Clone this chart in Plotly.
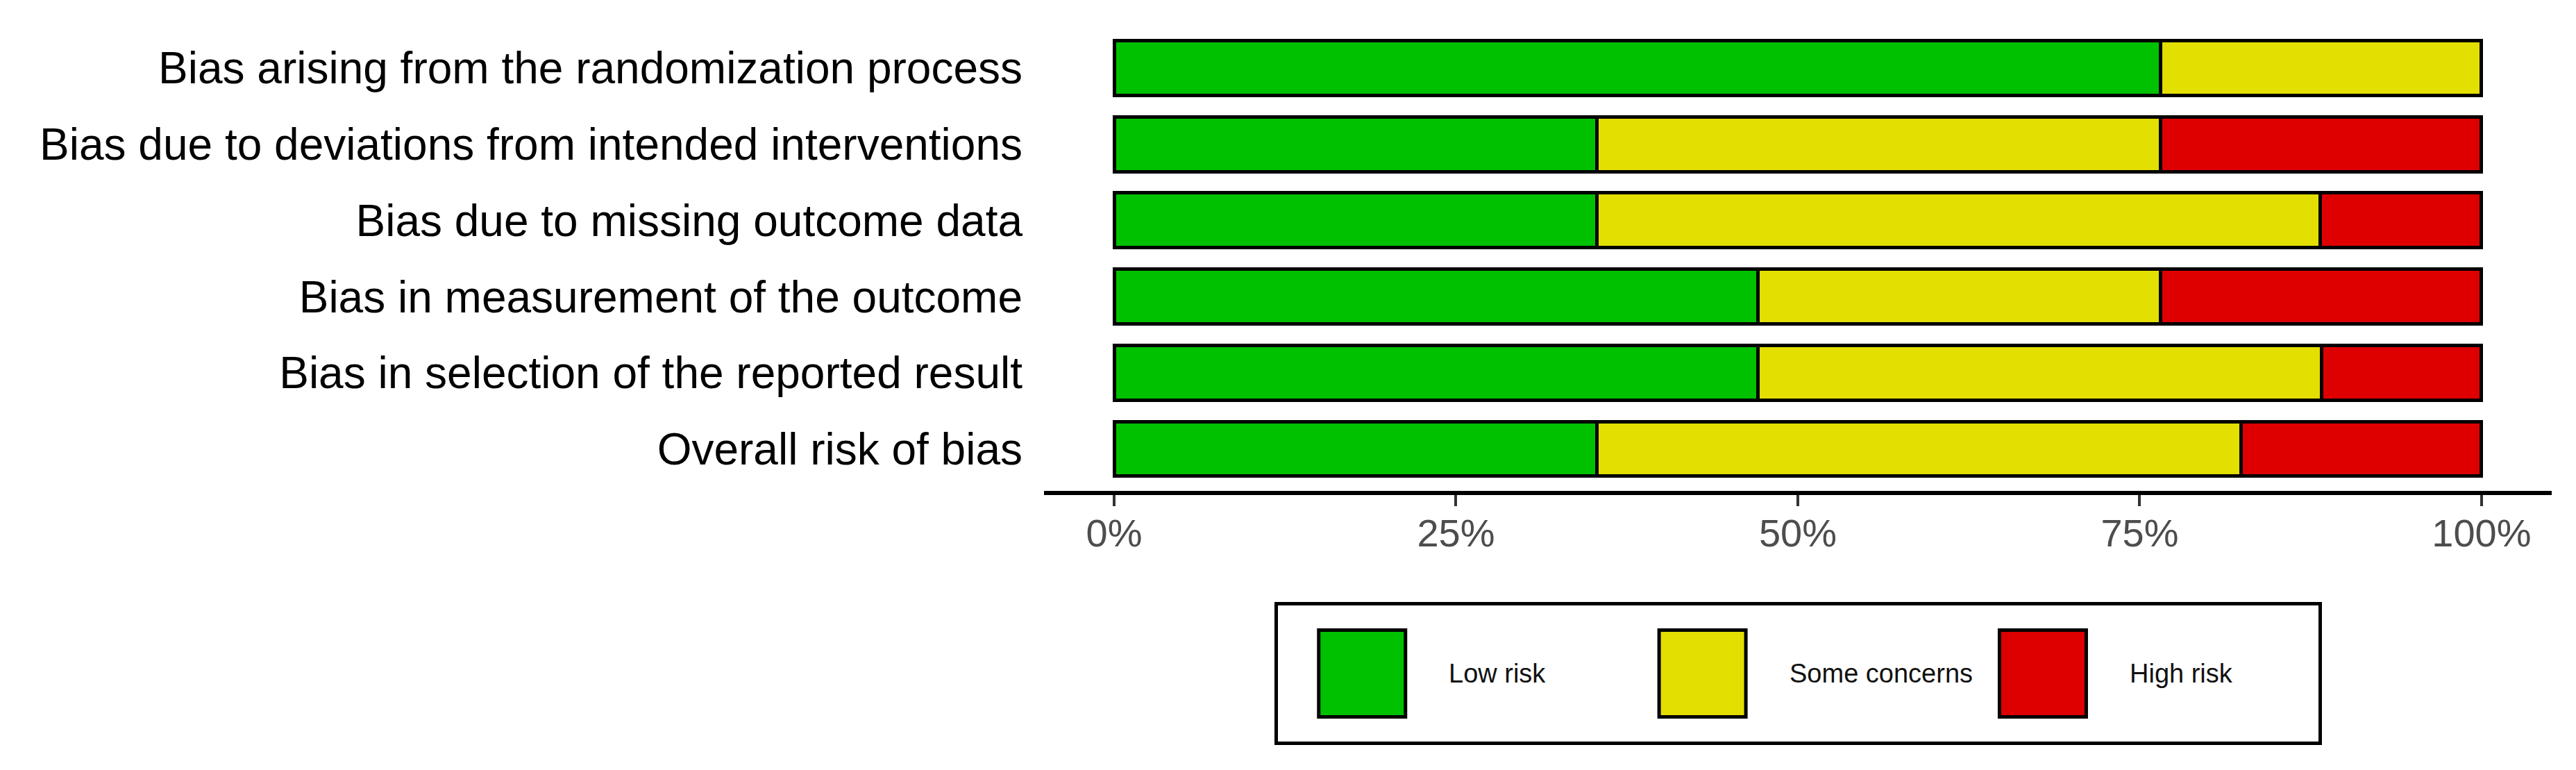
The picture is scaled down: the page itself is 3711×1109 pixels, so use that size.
import plotly.graph_objects as go

# ---- data ----
domains = [
    "Bias arising from the randomization process",
    "Bias due to deviations from intended interventions",
    "Bias due to missing outcome data",
    "Bias in measurement of the outcome",
    "Bias in selection of the reported result",
    "Overall risk of bias",
]
low_risk = [76.5, 35.3, 35.3, 47.1, 47.1, 35.3]
some_concerns = [23.5, 41.2, 52.9, 29.4, 41.2, 47.1]
high_risk = [0.0, 23.5, 11.8, 23.5, 11.7, 17.6]

judgements = ["Low risk", "Some concerns", "High risk"]
colours = ["#00C100", "#E3DF00", "#DE0000"]

tick_vals = [0, 25, 50, 75, 100]
tick_text = ["0%", "25%", "50%", "75%", "100%"]

W, H = 3711, 1109
FONT = "Liberation Sans, Arial, Helvetica, sans-serif"

fig = go.Figure()

for name, vals, col in zip(judgements, [low_risk, some_concerns, high_risk], colours):
    fig.add_trace(go.Bar(
        y=domains, x=vals, name=name, orientation="h",
        marker=dict(color=col, line=dict(color="black", width=5)),
        xaxis="x", yaxis="y", showlegend=False, hoverinfo="skip",
    ))

# legend drawn as its own small panel
fig.add_trace(go.Scatter(
    x=judgements, y=[0.5] * len(judgements), mode="markers",
    marker=dict(symbol="square", size=125, color=colours,
                line=dict(color="black", width=5)),
    xaxis="x2", yaxis="y2", showlegend=False, hoverinfo="skip",
    cliponaxis=False,
))

annotations = [
    dict(x=j, y=0.5, xref="x2", yref="y2", text=j, showarrow=False,
         xanchor="left", yanchor="middle", xshift=123,
         font=dict(family=FONT, size=38, color="#111111"))
    for j in judgements
]

fig.update_layout(
    width=W, height=H,
    margin=dict(l=0, r=0, t=0, b=0),
    paper_bgcolor="white", plot_bgcolor="white",
    barmode="stack", bargap=0.28,
    font=dict(family=FONT, color="black"),
    annotations=annotations,
    xaxis=dict(
        domain=[1496 / W, 3668 / W], range=[-5.127, 105.13],
        tickvals=tick_vals, ticktext=tick_text,
        showgrid=False, zeroline=False,
        showline=True, linecolor="black", linewidth=6,
        ticks="outside", ticklen=16, tickwidth=4, tickcolor="#333333",
        tickfont=dict(family=FONT, size=56, color="#4D4D4D"),
        ticklabelstandoff=-9, automargin=False, fixedrange=True,
    ),
    yaxis=dict(
        domain=[1 - 699 / H, 1 - 24 / H],
        type="category", categoryarray=domains, categoryorder="array",
        range=[5.5515, -0.6016],
        showgrid=False, zeroline=False, showline=False, ticks="",
        tickfont=dict(family=FONT, size=64, color="black"),
        ticklabelstandoff=30, automargin=False, fixedrange=True,
    ),
    xaxis2=dict(
        domain=[1833 / W, 3332 / W], anchor="y2",
        type="category", categoryarray=judgements, categoryorder="array",
        range=[-0.2473, 2.8097],
        showgrid=False, zeroline=False, showticklabels=False, ticks="",
        showline=True, mirror=True, linecolor="black", linewidth=5,
        automargin=False, fixedrange=True,
    ),
    yaxis2=dict(
        domain=[1 - 1060 / H, 1 - 864 / H], anchor="x2",
        range=[0, 1],
        showgrid=False, zeroline=False, showticklabels=False, ticks="",
        showline=True, mirror=True, linecolor="black", linewidth=5,
        automargin=False, fixedrange=True,
    ),
)

fig.write_html("out.html")
